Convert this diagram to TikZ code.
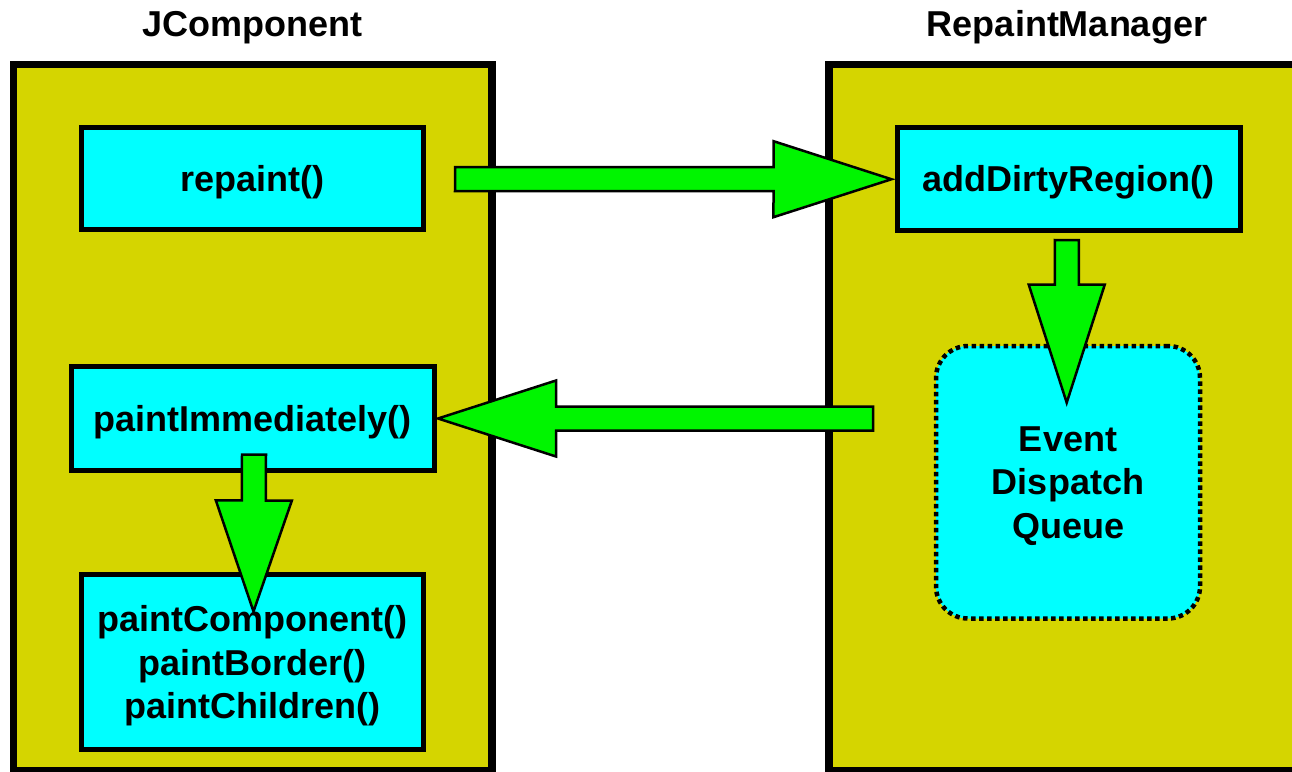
\documentclass[tikz,border=0pt]{standalone}
\usepackage{fontspec}
\setmainfont{Liberation Sans}
\usetikzlibrary{calc}
\pgfdeclarelayer{background}
\pgfsetlayers{background, main}
\definecolor{panelyellow}{RGB}{213,213,0}
\definecolor{boxcyan}{RGB}{0,255,255}
\definecolor{flowgreen}{RGB}{0,245,0}
\newcommand\methodfont{\fontsize{36}{43.5}\selectfont\bfseries}
% fat green arrow: start, tip, head length
\newcommand\flowarrow[3]{%
  \path (#1) coordinate (fa-s) (#2) coordinate (fa-t) ($(fa-t)!#3!(fa-s)$) coordinate (fa-h);
  \draw[flow] ($(fa-s)!12pt!90:(fa-t)$) -- ($(fa-h)!12pt!90:(fa-t)$) -- ($(fa-h)!38pt!90:(fa-t)$) -- (fa-t)
    -- ($(fa-h)!38pt!-90:(fa-t)$) -- ($(fa-h)!12pt!-90:(fa-t)$) -- ($(fa-s)!12pt!-90:(fa-t)$) -- cycle;}

\begin{document}
\begin{tikzpicture}[x=1pt, y=-1pt,
    panel/.style={draw, line width=7.5pt, fill=panelyellow, inner sep=0pt, outer sep=0pt},
    method/.style={draw, line width=5pt, fill=boxcyan, inner sep=0pt, outer sep=0pt, align=center,
      font=\methodfont, text depth=0pt},
    queuebox/.style={method, rounded corners=32pt, dash pattern=on 4.5pt off 3.5pt, line width=4.5pt},
    title/.style={anchor=base, font=\methodfont},
    flow/.style={draw=black, line width=2.5pt, fill=flowgreen, line join=miter}]
  \useasboundingbox (0,0) rectangle (1292,771);
  \node[title] (jtitle) at (252.5, 36) {JComponent};
  \node[title] (rmtitle) at (1067, 36) {RepaintManager};
  \begin{pgfonlayer}{background}
    \node[panel, minimum width=478.5pt, minimum height=706.7pt] (jpanel) at (252.75, 417.65) {};
    \node[panel, minimum width=471pt, minimum height=706.7pt] (rmpanel) at (1064.5, 417.65) {};
  \end{pgfonlayer}
  \node[method, minimum width=341.5pt, minimum height=102pt] (repaint) at (252.25, 178.5) {repaint()};
  \node[method, minimum width=342.5pt, minimum height=102.5pt] (dirty) at (1068.75, 178.75) {addDirtyRegion()};
  \node[method, minimum width=363.5pt, minimum height=104pt] (paintnow) at (252.75, 418.5) {paintImmediately()};
  \node[method, minimum width=342pt, minimum height=175pt] (paintsub) at (252.5, 662) {paintComponent()\\paintBorder()\\paintChildren()};
  \node[queuebox, minimum width=264pt, minimum height=272.5pt] (queue) at (1068, 482.25) {Event\\Dispatch\\Queue};

  \coordinate (call-out) at ($(repaint.east)+(32,0.5)$);
  \coordinate (call-in) at ($(dirty.west)+(-6,0.5)$);
  \coordinate (post-out) at ($(dirty.south)+(-2,10)$);
  \coordinate (post-in) at ($(queue.north)+(-1.3,56.7)$);
  \coordinate (back-out) at ($(rmpanel.west |- paintnow.east)+(44,0)$);
  \coordinate (back-in) at ($(paintnow.east)+(3.5,0)$);
  \coordinate (sub-out) at ($(paintnow.south)+(1.25,-15.8)$);
  \coordinate (sub-in) at ($(paintsub.north)+(1,37)$);
  \flowarrow{call-out}{call-in}{118pt}
  \flowarrow{post-out}{post-in}{118pt}
  \flowarrow{back-out}{back-in}{118pt}
  \flowarrow{sub-out}{sub-in}{111pt}
\end{tikzpicture}
\end{document}
